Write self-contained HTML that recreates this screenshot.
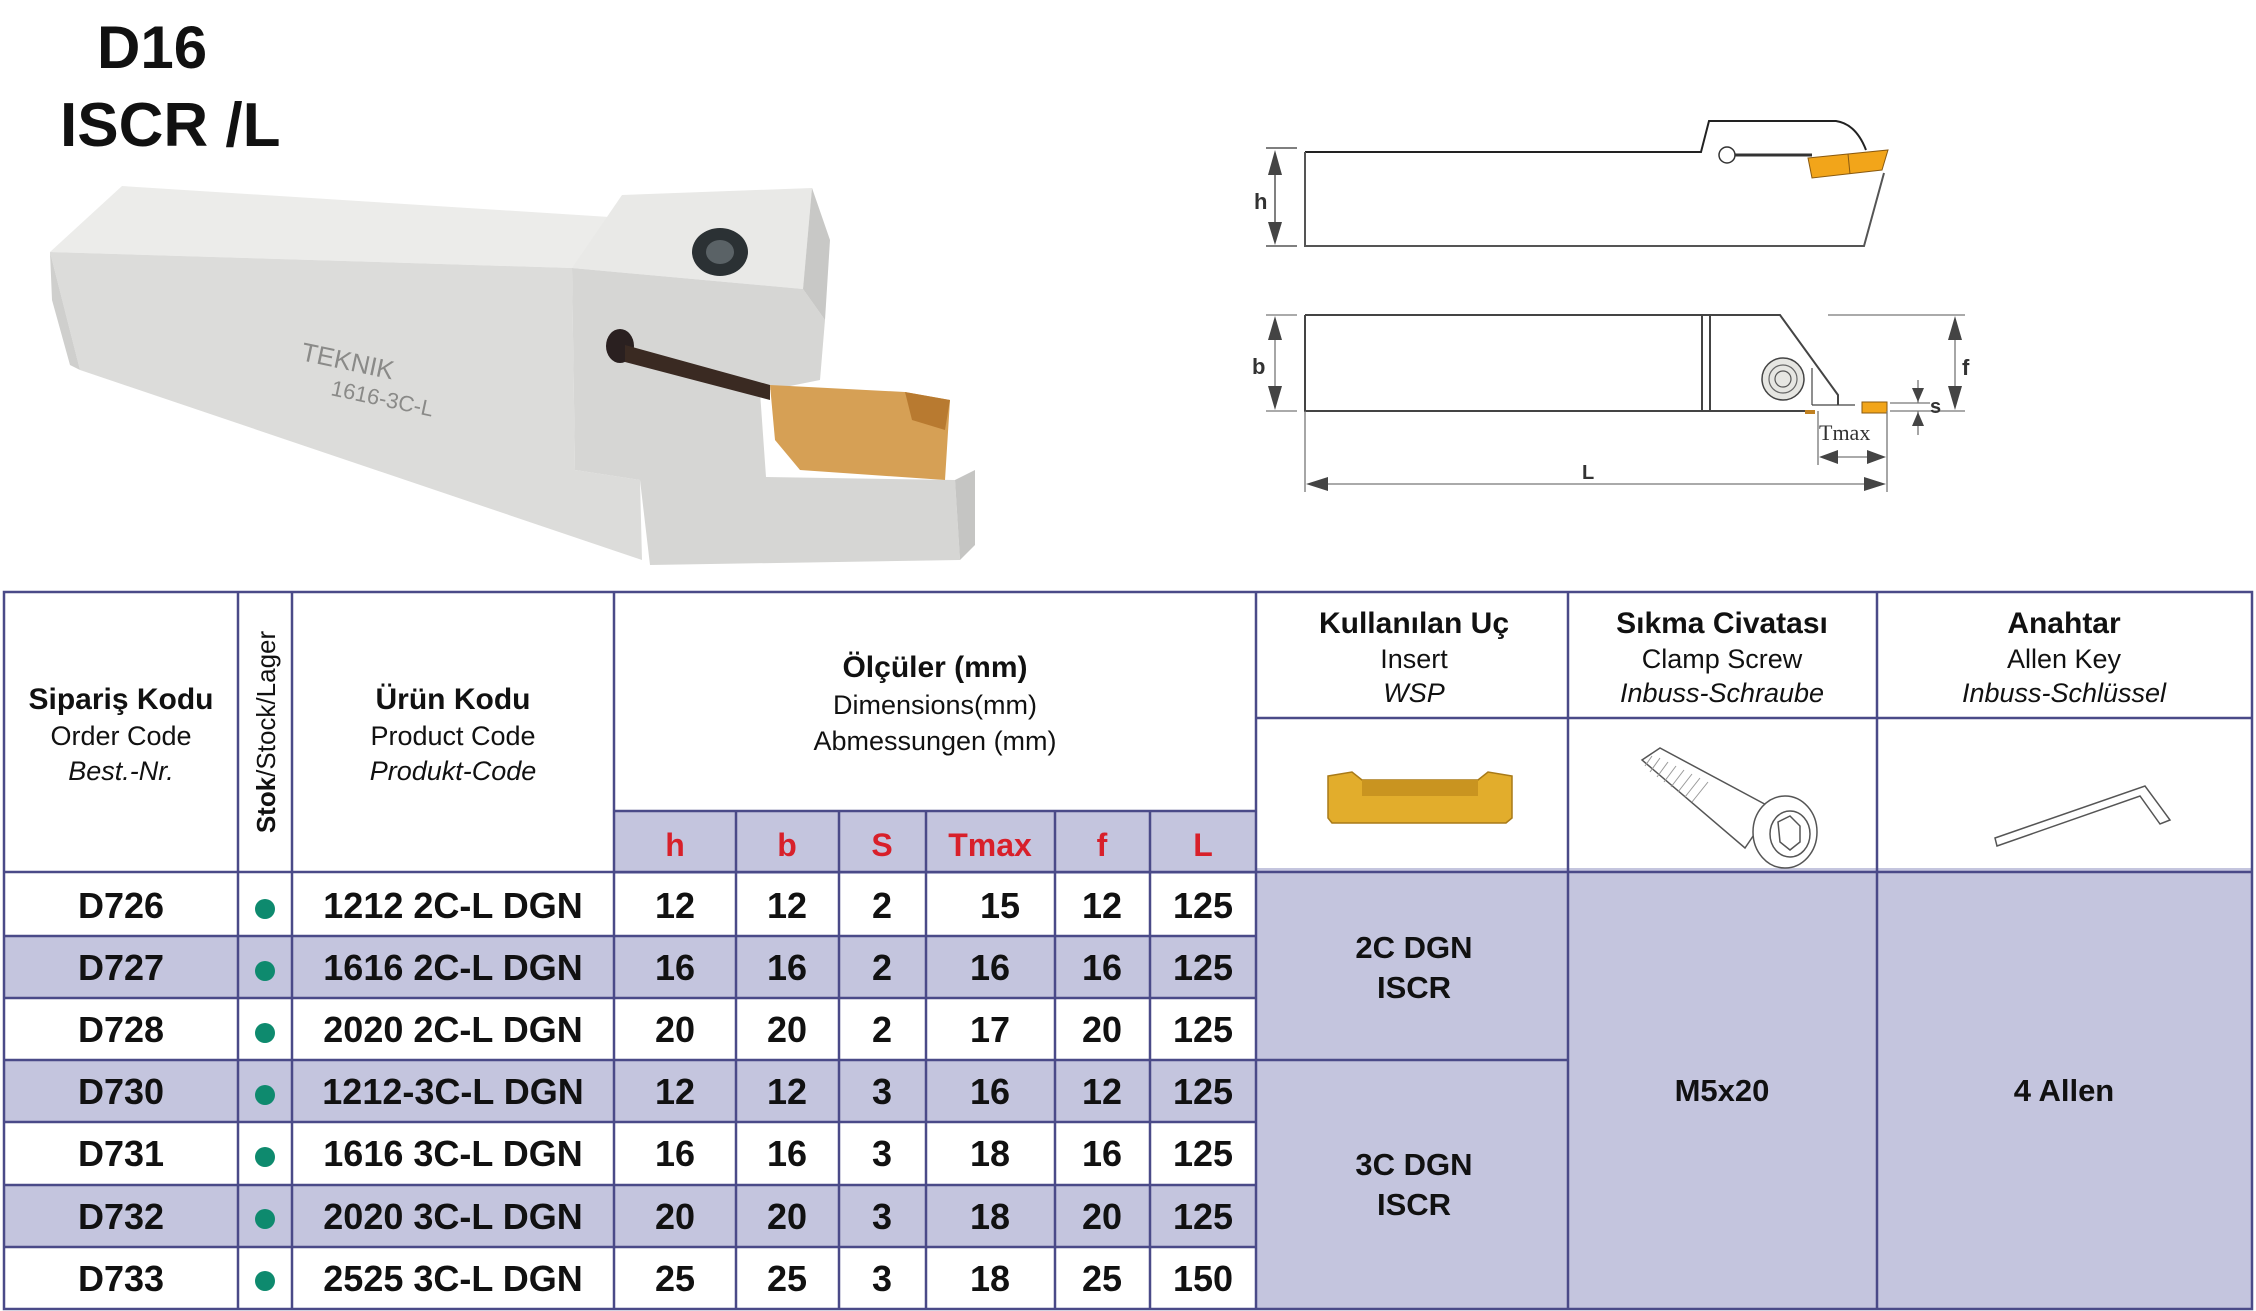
<!DOCTYPE html>
<html><head><meta charset="utf-8"><style>
html,body{margin:0;padding:0;background:#fff;}
svg{display:block;}
</style></head><body>
<svg width="2256" height="1311" viewBox="0 0 2256 1311" xmlns="http://www.w3.org/2000/svg" font-family="Liberation Sans, sans-serif">
<rect width="2256" height="1311" fill="#fff"/>
<!-- Title -->
<text x="97" y="68" font-size="60" font-weight="bold" fill="#111">D16</text>
<text x="60" y="146" font-size="62" font-weight="bold" fill="#111">ISCR /L</text>

<!-- Photo (approx) -->
<g>
<polygon points="50,252 122,186 625,218 572,268" fill="#ececea"/>
<polygon points="50,252 572,268 575,470 640,480 642,560 80,370" fill="#dcdcda"/>
<polygon points="50,252 80,370 70,365 52,300" fill="#cfcfcd"/>
<polygon points="572,268 622,195 812,188 803,289" fill="#e9e9e7"/>
<polygon points="572,268 803,289 825,320 820,380 760,392 766,477 955,480 960,560 650,565 640,480 575,470" fill="#d6d6d4"/>
<polygon points="803,289 812,188 830,240 825,320" fill="#c8c8c6"/>
<polygon points="960,560 955,480 975,470 975,545" fill="#c5c5c3"/>
<ellipse cx="720" cy="252" rx="28" ry="24" fill="#2b3134"/>
<ellipse cx="720" cy="252" rx="14" ry="12" fill="#5a6266"/>
<ellipse cx="620" cy="346" rx="14" ry="17" fill="#2a2020"/>
<polygon points="625,345 770,385 770,400 625,362" fill="#3a2a22"/>
<polygon points="770,385 905,392 950,400 945,480 800,470 775,440" fill="#d6a055"/>
<polygon points="905,392 950,400 945,430 912,420" fill="#b87a30"/>
<text x="300" y="360" font-size="26" fill="#8a8a88" transform="rotate(12 300 360)">TEKNIK</text>
<text x="330" y="395" font-size="22" fill="#8a8a88" transform="rotate(12 330 395)">1616-3C-L</text>
</g>

<!-- Technical drawing: top view -->
<g fill="none" stroke="#222" stroke-width="2">
<path d="M1305,152 L1701,152 L1709,121 L1836,121 Q1856,124 1866,150"/>
<path d="M1884,173 L1864,246 L1305,246 L1305,152" stroke="#555"/>
<line x1="1735" y1="155" x2="1812" y2="155" stroke="#333" stroke-width="3"/>
</g>
<ellipse cx="1727" cy="155" rx="8" ry="8" fill="#fff" stroke="#333" stroke-width="1.5"/>
<polygon points="1808,158 1888,150 1882,170 1812,178" fill="#f2a51a" stroke="#8a5a10" stroke-width="1"/>
<line x1="1848" y1="154" x2="1850" y2="174" stroke="#8a5a10" stroke-width="1"/>
<g stroke="#555" stroke-width="1.5">
<line x1="1266" y1="148" x2="1297" y2="148"/><line x1="1266" y1="246" x2="1297" y2="246"/>
<line x1="1275" y1="160" x2="1275" y2="236"/>
</g>
<polygon points="1275,150 1268,175 1282,175" fill="#444"/>
<polygon points="1275,245 1268,222 1282,222" fill="#444"/>
<text x="1254" y="209" font-size="22" font-weight="bold" fill="#333">h</text>

<!-- bottom view -->
<g fill="none" stroke="#444" stroke-width="2">
<path d="M1305,315 L1780,315 L1838,395 L1838,405"/>
<path d="M1305,315 L1305,411 L1810,411"/>
<line x1="1702" y1="315" x2="1702" y2="411"/><line x1="1710" y1="315" x2="1710" y2="411"/>
<line x1="1812" y1="368" x2="1812" y2="405" stroke-width="1.2"/>
<line x1="1812" y1="405" x2="1855" y2="405" stroke-width="1.2"/>
</g>
<circle cx="1783" cy="379" r="21" fill="#e6e6e2" stroke="#444" stroke-width="1.5"/>
<circle cx="1783" cy="379" r="14" fill="none" stroke="#666" stroke-width="1.2"/>
<circle cx="1783" cy="379" r="8" fill="none" stroke="#555" stroke-width="1.2"/>
<rect x="1862" y="402" width="25" height="11" fill="#f2a51a" stroke="#8a5a10"/>
<rect x="1805" y="410" width="10" height="4" fill="#c08020"/>
<g stroke="#777" stroke-width="1.3">
<line x1="1266" y1="315" x2="1297" y2="315"/><line x1="1266" y1="411" x2="1297" y2="411"/>
<line x1="1275" y1="325" x2="1275" y2="400"/>
<line x1="1828" y1="315" x2="1965" y2="315"/><line x1="1890" y1="411" x2="1965" y2="411"/>
<line x1="1955" y1="325" x2="1955" y2="400"/>
<line x1="1890" y1="403" x2="1930" y2="403"/>
<line x1="1918" y1="380" x2="1918" y2="403"/><line x1="1918" y1="411" x2="1918" y2="435"/>
<line x1="1818" y1="411" x2="1818" y2="465"/><line x1="1887" y1="411" x2="1887" y2="492"/>
<line x1="1305" y1="411" x2="1305" y2="492"/>
<line x1="1825" y1="457" x2="1880" y2="457"/>
<line x1="1315" y1="484" x2="1877" y2="484"/>
</g>
<polygon points="1275,316 1268,340 1282,340" fill="#444"/>
<polygon points="1275,410 1268,386 1282,386" fill="#444"/>
<polygon points="1955,316 1948,340 1962,340" fill="#444"/>
<polygon points="1955,410 1948,386 1962,386" fill="#444"/>
<polygon points="1918,402 1912,388 1924,388" fill="#444"/>
<polygon points="1918,412 1912,426 1924,426" fill="#444"/>
<polygon points="1819,457 1838,450 1838,464" fill="#444"/>
<polygon points="1886,457 1867,450 1867,464" fill="#444"/>
<polygon points="1306,484 1328,477 1328,491" fill="#444"/>
<polygon points="1886,484 1864,477 1864,491" fill="#444"/>
<text x="1252" y="374" font-size="22" font-weight="bold" fill="#333">b</text>
<text x="1962" y="375" font-size="22" font-weight="bold" fill="#333">f</text>
<text x="1930" y="413" font-size="20" font-weight="bold" fill="#333">s</text>
<text x="1819" y="440" font-size="22" font-family="Liberation Serif, serif" fill="#333">Tmax</text>
<text x="1582" y="479" font-size="20" font-weight="bold" fill="#333">L</text>

<!-- Table backgrounds -->
<rect x="614" y="811" width="642" height="63" fill="#c4c5de"/>
<rect x="4" y="936" width="1252" height="62" fill="#c4c5de"/>
<rect x="4" y="1060" width="1252" height="62" fill="#c4c5de"/>
<rect x="4" y="1185" width="1252" height="62" fill="#c4c5de"/>
<rect x="1256" y="868" width="996" height="441" fill="#c4c5de"/>

<!-- Grid lines -->
<g stroke="#4a4a88" stroke-width="2.5" fill="none">
<rect x="4" y="592" width="2248" height="717"/>
<line x1="238" y1="592" x2="238" y2="1309"/>
<line x1="292" y1="592" x2="292" y2="1309"/>
<line x1="614" y1="592" x2="614" y2="1309"/>
<line x1="1256" y1="592" x2="1256" y2="1309"/>
<line x1="1568" y1="592" x2="1568" y2="1309"/>
<line x1="1877" y1="592" x2="1877" y2="1309"/>
<line x1="614" y1="811" x2="1256" y2="811"/>
<line x1="1256" y1="718" x2="2252" y2="718"/>
<line x1="4" y1="872" x2="2252" y2="872"/>
<line x1="1256" y1="1060" x2="1568" y2="1060"/>
<line x1="736" y1="811" x2="736" y2="1309"/>
<line x1="839" y1="811" x2="839" y2="1309"/>
<line x1="926" y1="811" x2="926" y2="1309"/>
<line x1="1055" y1="811" x2="1055" y2="1309"/>
<line x1="1150" y1="811" x2="1150" y2="1309"/>
<line x1="4" y1="936" x2="1256" y2="936"/>
<line x1="4" y1="998" x2="1256" y2="998"/>
<line x1="4" y1="1060" x2="1256" y2="1060"/>
<line x1="4" y1="1122" x2="1256" y2="1122"/>
<line x1="4" y1="1185" x2="1256" y2="1185"/>
<line x1="4" y1="1247" x2="1256" y2="1247"/>
</g>

<!-- Header text -->
<g text-anchor="middle" fill="#111">
<text x="121" y="709" font-size="30" font-weight="bold">Sipariş Kodu</text>
<text x="121" y="745" font-size="27">Order Code</text>
<text x="121" y="780" font-size="27" font-style="italic">Best.-Nr.</text>
<text x="453" y="709" font-size="30" font-weight="bold">Ürün Kodu</text>
<text x="453" y="745" font-size="27">Product Code</text>
<text x="453" y="780" font-size="27" font-style="italic">Produkt-Code</text>
<text x="935" y="677" font-size="30" font-weight="bold">Ölçüler (mm)</text>
<text x="935" y="714" font-size="27">Dimensions(mm)</text>
<text x="935" y="750" font-size="27">Abmessungen (mm)</text>
<text transform="translate(275 732) rotate(-90)" font-size="26"><tspan font-weight="bold">Stok</tspan>/Stock/Lager</text>
<text x="1414" y="633" font-size="30" font-weight="bold">Kullanılan Uç</text>
<text x="1414" y="668" font-size="27">Insert</text>
<text x="1414" y="702" font-size="27" font-style="italic">WSP</text>
<text x="1722" y="633" font-size="30" font-weight="bold">Sıkma Civatası</text>
<text x="1722" y="668" font-size="27">Clamp Screw</text>
<text x="1722" y="702" font-size="27" font-style="italic">Inbuss-Schraube</text>
<text x="2064" y="633" font-size="30" font-weight="bold">Anahtar</text>
<text x="2064" y="668" font-size="27">Allen Key</text>
<text x="2064" y="702" font-size="27" font-style="italic">Inbuss-Schlüssel</text>
<g fill="#d8202a" font-size="32" font-weight="bold">
<text x="675" y="856">h</text><text x="787" y="856">b</text><text x="882" y="856">S</text>
<text x="990" y="856">Tmax</text><text x="1102" y="856">f</text><text x="1203" y="856">L</text>
</g>
</g>

<!-- icons -->
<polygon points="1328,776 1352,772 1362,780 1478,780 1488,772 1512,776 1512,818 1506,823 1332,823 1328,818" fill="#e2ad2c" stroke="#a87a18" stroke-width="1.5"/>
<rect x="1362" y="780" width="116" height="16" fill="#c99420"/>
<g fill="none" stroke="#555" stroke-width="1.5">
<path d="M1642,760 L1660,748 L1772,808 L1745,848 Z"/>
<g stroke="#999" stroke-width="1">
<line x1="1652" y1="756" x2="1645" y2="766"/><line x1="1660" y1="758" x2="1650" y2="772"/>
<line x1="1668" y1="762" x2="1657" y2="777"/><line x1="1676" y1="766" x2="1664" y2="782"/>
<line x1="1684" y1="770" x2="1671" y2="787"/><line x1="1692" y1="774" x2="1678" y2="792"/>
<line x1="1700" y1="778" x2="1685" y2="797"/><line x1="1708" y1="782" x2="1692" y2="802"/>
</g>
<ellipse cx="1785" cy="832" rx="32" ry="36" fill="#fff"/>
<ellipse cx="1790" cy="834" rx="20" ry="23"/>
<path d="M1778,822 L1790,816 L1800,826 L1800,842 L1790,850 L1780,842 Z"/>
<path d="M1995,838 L2145,786 L2170,820 L2160,824 L2140,796 L1997,846 Z"/>
</g>

<!-- data rows -->
<g text-anchor="middle" fill="#111" font-size="36" font-weight="bold">
<text x="121" y="918">D726</text><text x="453" y="918">1212 2C-L DGN</text><text x="675" y="918">12</text><text x="787" y="918">12</text><text x="882" y="918">2</text><text x="1000" y="918">15</text><text x="1102" y="918">12</text><text x="1203" y="918">125</text>
<text x="121" y="980">D727</text><text x="453" y="980">1616 2C-L DGN</text><text x="675" y="980">16</text><text x="787" y="980">16</text><text x="882" y="980">2</text><text x="990" y="980">16</text><text x="1102" y="980">16</text><text x="1203" y="980">125</text>
<text x="121" y="1042">D728</text><text x="453" y="1042">2020 2C-L DGN</text><text x="675" y="1042">20</text><text x="787" y="1042">20</text><text x="882" y="1042">2</text><text x="990" y="1042">17</text><text x="1102" y="1042">20</text><text x="1203" y="1042">125</text>
<text x="121" y="1104">D730</text><text x="453" y="1104">1212-3C-L DGN</text><text x="675" y="1104">12</text><text x="787" y="1104">12</text><text x="882" y="1104">3</text><text x="990" y="1104">16</text><text x="1102" y="1104">12</text><text x="1203" y="1104">125</text>
<text x="121" y="1166">D731</text><text x="453" y="1166">1616 3C-L DGN</text><text x="675" y="1166">16</text><text x="787" y="1166">16</text><text x="882" y="1166">3</text><text x="990" y="1166">18</text><text x="1102" y="1166">16</text><text x="1203" y="1166">125</text>
<text x="121" y="1229">D732</text><text x="453" y="1229">2020 3C-L DGN</text><text x="675" y="1229">20</text><text x="787" y="1229">20</text><text x="882" y="1229">3</text><text x="990" y="1229">18</text><text x="1102" y="1229">20</text><text x="1203" y="1229">125</text>
<text x="121" y="1291">D733</text><text x="453" y="1291">2525 3C-L DGN</text><text x="675" y="1291">25</text><text x="787" y="1291">25</text><text x="882" y="1291">3</text><text x="990" y="1291">18</text><text x="1102" y="1291">25</text><text x="1203" y="1291">150</text>
<g font-size="31">
<text x="1414" y="958">2C DGN</text><text x="1414" y="998">ISCR</text>
<text x="1414" y="1175">3C DGN</text><text x="1414" y="1215">ISCR</text>
<text x="1722" y="1101">M5x20</text>
<text x="2064" y="1101">4 Allen</text>
</g>
</g>
<g fill="#0e8a6e">
<circle cx="265" cy="909" r="10"/><circle cx="265" cy="971" r="10"/><circle cx="265" cy="1033" r="10"/>
<circle cx="265" cy="1095" r="10"/><circle cx="265" cy="1157" r="10"/><circle cx="265" cy="1219" r="10"/><circle cx="265" cy="1281" r="10"/>
</g>
</svg>
</body></html>
